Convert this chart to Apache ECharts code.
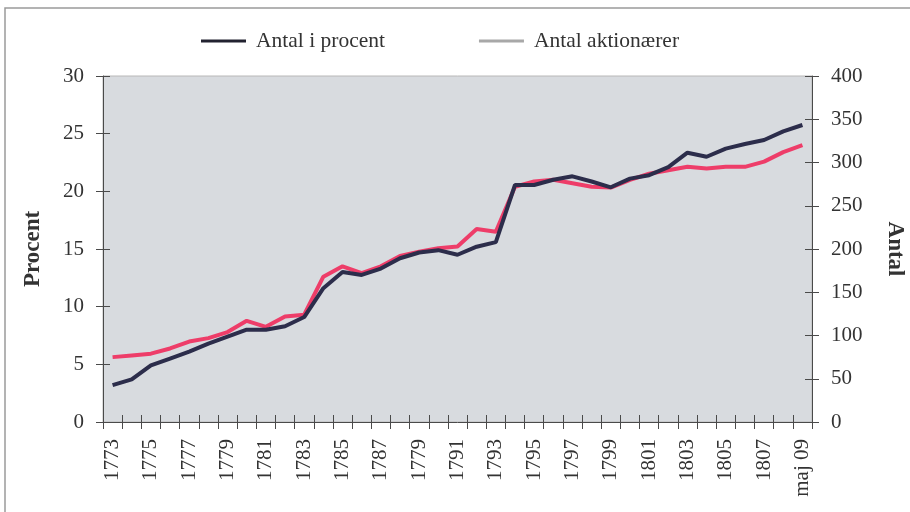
<!DOCTYPE html>
<html>
<head>
<meta charset="utf-8">
<script src="https://cdn.jsdelivr.net/npm/echarts@6/dist/echarts.min.js"></script>
<style>
  html, body { margin: 0; padding: 0; background: #ffffff; }
  #chart { width: 910px; height: 512px; }
</style>
</head>
<body>
<div id="chart"></div>
<script>
// Years on the category axis (1773 … 1808, then May 1809)
const years = ['1773','1774','1775','1776','1777','1778','1779','1780','1781','1782',
  '1783','1784','1785','1786','1787','1788','1789','1790','1791','1792','1793','1794',
  '1795','1796','1797','1798','1799','1800','1801','1802','1803','1804','1805','1806',
  '1807','1808','maj 09'];

// Printed tick labels (every second one is shown)
const tickLabels = ['1773','1774','1775','1776','1777','1778','1779','1780','1781','1782',
  '1783','1784','1785','1786','1787','1788','1779','1790','1791','1792','1793','1794',
  '1795','1796','1797','1798','1799','1800','1801','1802','1803','1804','1805','1806',
  '1807','1808','maj 09'];

// Share of shareholders, percent (left axis)
const antalIProcent = [3.2, 3.7, 4.9, 5.5, 6.1, 6.8, 7.4, 8.0, 8.0, 8.3, 9.1, 11.6, 13.0,
  12.75, 13.3, 14.2, 14.7, 14.9, 14.5, 15.2, 15.6, 20.55, 20.55, 21.0, 21.3, 20.85, 20.35,
  21.1, 21.4, 22.1, 23.35, 23.0, 23.7, 24.1, 24.45, 25.2, 25.75];

// Number of shareholders (right axis)
const antalAktionaerer = [75, 77, 79, 85, 93, 97, 104, 117, 110, 122, 124, 168, 180,
  172, 180, 192, 197, 201, 203, 223, 220, 272, 278, 280, 276, 272, 271, 280, 287, 291,
  295, 293, 295, 295, 301, 312, 320];

const leftTicks = { min: 0, max: 30, interval: 5 };
const rightTicks = { min: 0, max: 400, interval: 50 };

const serif = '"Liberation Serif", "DejaVu Serif", serif';
const axisColor = '#4a4a4a';
const darkLine = '#2c2d4b';
const pinkLine = '#ee3d69';

const chart = echarts.init(document.getElementById('chart'), null, { renderer: 'canvas' });

const tickOnly = (inside) => ({
  show: true, inside: inside, length: 7, interval: 0,
  lineStyle: { color: axisColor, width: 1 }
});

chart.setOption({
  animation: false,
  backgroundColor: '#ffffff',
  graphic: [{
    type: 'rect', silent: true,
    shape: { x: 5, y: 8, width: 930, height: 530 },
    style: { fill: 'none', stroke: '#9a9a9a', lineWidth: 1.5 }
  }],
  legend: {
    left: 196, top: 25,
    itemGap: 94,
    icon: 'rect',
    itemWidth: 45, itemHeight: 3,
    textStyle: { fontFamily: serif, fontSize: 21.5, color: '#333', padding: [0, 0, 0, 5] },
    data: [
      { name: 'Antal i procent', itemStyle: { color: '#222230' } },
      { name: 'Antal aktionærer', itemStyle: { color: '#a8a8a8' } }
    ]
  },
  grid: {
    left: 103, right: 98, top: 76, bottom: 90,
    outerBoundsMode: 'none',
    show: true, backgroundColor: '#d8dbdf',
    borderColor: '#b8b8b8', borderWidth: 1
  },
  xAxis: [{
    type: 'category', data: years, position: 'bottom', boundaryGap: true,
    axisLine: { show: true, lineStyle: { color: axisColor, width: 1 } },
    axisTick: tickOnly(false),
    axisLabel: {
      interval: 1, rotate: 90, margin: 17,
      fontFamily: serif, fontSize: 21, color: '#333',
      formatter: (v, i) => tickLabels[i]
    },
    splitLine: { show: false }
  }, {
    type: 'category', data: years, position: 'bottom', boundaryGap: true,
    axisLine: { show: false }, axisTick: tickOnly(true),
    axisLabel: { show: false }, splitLine: { show: false }
  }],
  yAxis: [{
    type: 'value', position: 'left', ...leftTicks,
    name: 'Procent', nameLocation: 'middle', nameGap: 58, nameRotate: 90,
    nameTextStyle: { fontFamily: serif, fontSize: 23, fontWeight: 'bold', color: '#333' },
    axisLine: { show: true, lineStyle: { color: axisColor, width: 1 } },
    axisTick: { show: true, length: 7, lineStyle: { color: axisColor } },
    axisLabel: { fontFamily: serif, fontSize: 21, color: '#333', margin: 19 },
    splitLine: { show: false }
  }, {
    type: 'value', position: 'right', ...rightTicks,
    name: 'Antal', nameLocation: 'middle', nameGap: 71, nameRotate: -90,
    nameTextStyle: { fontFamily: serif, fontSize: 23, fontWeight: 'bold', color: '#333' },
    axisLine: { show: true, lineStyle: { color: axisColor, width: 1 } },
    axisTick: { show: true, length: 7, lineStyle: { color: axisColor } },
    axisLabel: { fontFamily: serif, fontSize: 21, color: '#333', margin: 19 },
    splitLine: { show: false }
  }, {
    type: 'value', position: 'left', ...leftTicks,
    axisLine: { show: false },
    axisTick: { show: true, inside: true, length: 7, lineStyle: { color: axisColor } },
    axisLabel: { show: false }, splitLine: { show: false }
  }, {
    type: 'value', position: 'right', ...rightTicks,
    axisLine: { show: false },
    axisTick: { show: true, inside: true, length: 7, lineStyle: { color: axisColor } },
    axisLabel: { show: false }, splitLine: { show: false }
  }],
  series: [{
    name: 'Antal i procent', type: 'line', xAxisIndex: 0, yAxisIndex: 0,
    data: antalIProcent, symbol: 'none', z: 3,
    lineStyle: { color: darkLine, width: 4 }, itemStyle: { color: darkLine }
  }, {
    name: 'Antal aktionærer', type: 'line', xAxisIndex: 0, yAxisIndex: 1,
    data: antalAktionaerer, symbol: 'none', z: 2,
    lineStyle: { color: pinkLine, width: 4 }, itemStyle: { color: pinkLine }
  }]
});
</script>
</body>
</html>
